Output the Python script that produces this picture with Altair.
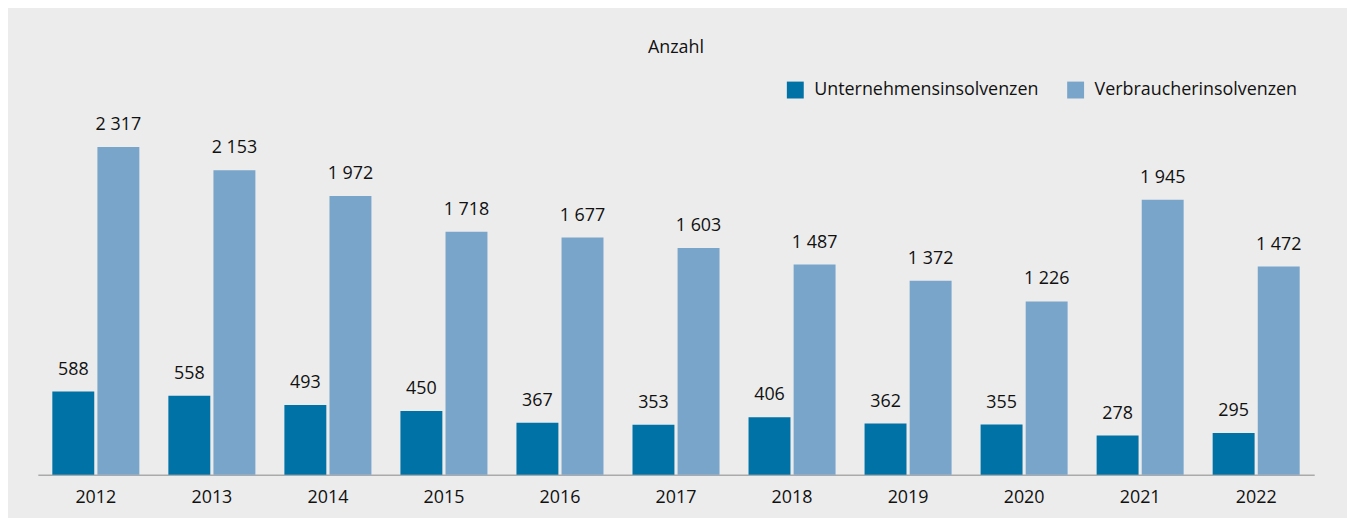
import altair as alt
import pandas as pd

years = ["2012", "2013", "2014", "2015", "2016", "2017", "2018", "2019", "2020", "2021", "2022"]
unternehmen = [588, 558, 493, 450, 367, 353, 406, 362, 355, 278, 295]
verbraucher = [2317, 2153, 1972, 1718, 1677, 1603, 1487, 1372, 1226, 1945, 1472]
series = ["Unternehmensinsolvenzen", "Verbraucherinsolvenzen"]
colors = ["#0072a6", "#79a5cb"]

rows = []
for y, u, v in zip(years, unternehmen, verbraucher):
    rows.append({"Jahr": y, "Art": series[0], "Wert": u})
    rows.append({"Jahr": y, "Art": series[1], "Wert": v})
df = pd.DataFrame(rows)

FONT = "Open Sans"
FS = 18

base = alt.Chart(df).encode(
    x=alt.X("Jahr:N", sort=years,
            scale=alt.Scale(paddingInner=0.25, paddingOuter=0.125),
            axis=alt.Axis(title=None, labelAngle=0, ticks=False, domainColor="#aaaaaa",
                          domainWidth=1.5, labelFontSize=FS, labelColor="#111111",
                          labelFont=FONT, labelPadding=14)),
    xOffset=alt.XOffset("Art:N", sort=series, scale=alt.Scale(paddingInner=0.07, paddingOuter=0)),
    y=alt.Y("Wert:Q", scale=alt.Scale(domain=[0, 2580], nice=False), axis=None),
)

bars = base.mark_bar().encode(
    color=alt.Color("Art:N", sort=series,
                    scale=alt.Scale(domain=series, range=colors),
                    legend=alt.Legend(title=None, orient="none", direction="horizontal",
                                      legendX=753, legendY=-29, symbolType="square",
                                      symbolSize=289, symbolStrokeWidth=0, symbolOpacity=1,
                                      labelFontSize=FS, labelFont=FONT, labelColor="#111111",
                                      labelLimit=0, columnPadding=28, labelOffset=10))
)

labels = base.transform_calculate(
    txt="replace(format(datum.Wert, ',d'), ',', ' ')"
).mark_text(baseline="bottom", dy=-13, fontSize=FS, font=FONT, color="#111111").encode(
    text="txt:N"
)

chart = (bars + labels).properties(
    width=1284, height=367,
    background="#ececec",
    padding={"left": 30, "top": 30, "right": 33, "bottom": 14},
    title=alt.TitleParams("Anzahl", fontSize=FS, font=FONT, fontWeight="normal",
                          color="#111111", anchor="middle", offset=24),
).configure_view(stroke=None)

chart.save("out.html", embed_options={"renderer": "svg", "actions": False})
